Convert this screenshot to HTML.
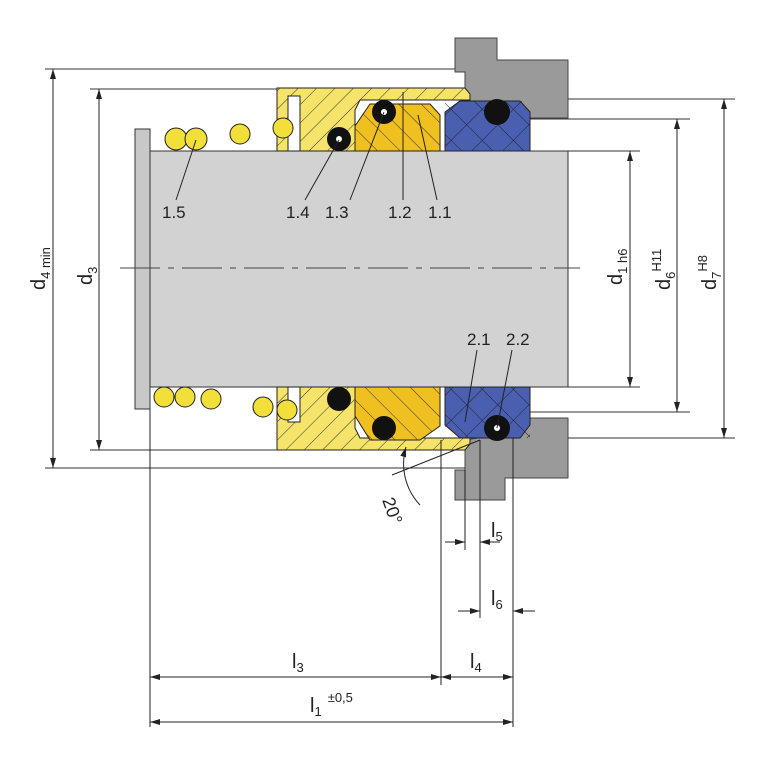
<!DOCTYPE html>
<html><head><meta charset="utf-8"><style>
html,body{margin:0;padding:0;background:#fff}
svg{display:block}
text{font-family:"Liberation Sans Narrow","Liberation Sans",sans-serif;fill:#222}
</style></head><body>
<svg width="768" height="768" viewBox="0 0 768 768" xmlns="http://www.w3.org/2000/svg">
<defs>
<marker id="a" markerWidth="10" markerHeight="6" refX="10" refY="3" orient="auto-start-reverse" markerUnits="userSpaceOnUse"><path d="M0,0 L10,3 L0,6z" fill="#222"/></marker>
<pattern id="h" width="13" height="13" patternUnits="userSpaceOnUse" patternTransform="rotate(45)"><line x1="0" y1="0" x2="0" y2="13" stroke="#333" stroke-width="1"/></pattern>
<pattern id="h2" width="16" height="16" patternUnits="userSpaceOnUse" patternTransform="rotate(-45)"><line x1="0" y1="0" x2="0" y2="16" stroke="#333" stroke-width="1"/></pattern>
<pattern id="x" width="22" height="22" patternUnits="userSpaceOnUse" patternTransform="rotate(45)"><path d="M0,0V22M0,0H22" stroke="#223" stroke-width="1"/></pattern>
</defs>
<g stroke="#333" stroke-width="1" fill="none">
<line x1="45" y1="69" x2="458" y2="69"/>
<line x1="90" y1="89" x2="462" y2="89"/>
<line x1="505" y1="99" x2="735" y2="99"/>
<line x1="520" y1="119" x2="690" y2="119"/>
<line x1="568" y1="151" x2="640" y2="151"/>
<line x1="568" y1="387" x2="640" y2="387"/>
<line x1="520" y1="412" x2="690" y2="412"/>
<line x1="515" y1="438" x2="735" y2="438"/>
<line x1="90" y1="450" x2="470" y2="450"/>
<line x1="45" y1="468" x2="470" y2="468"/>
</g>
<path d="M455,38H497V60H568V118H487L470,102H465V72H455Z" fill="#9a9a9a" stroke="#444"/>
<path d="M478,438L505,418H568V478H505V500H455V470H465V440Z" fill="#9a9a9a" stroke="#444"/>
<rect x="150" y="151" width="418" height="236" fill="#d2d2d2" stroke="#333"/>
<rect x="135" y="129" width="15" height="280" fill="#c8c8c8" stroke="#333"/>
<line x1="120" y1="268" x2="580" y2="268" stroke="#444" stroke-dasharray="40,8,6,8"/>
<!-- top seal -->
<path d="M277,88H465L470,94V100H360L355,110V151H277Z" fill="#f6e36a" stroke="#222"/>
<path d="M277,88H465L470,94V100H360L355,110V151H277Z" fill="url(#h)"/>
<path d="M355,151V126L370,104H415L430,104L440,115L440,151Z" fill="#f0c020" stroke="#222"/>
<path d="M355,151V126L370,104H415L430,104L440,115L440,151Z" fill="url(#h2)"/>
<path d="M445,151V112L460,101H520L530,112V151Z" fill="#4a5fb0" stroke="#222"/>
<rect x="445" y="101" width="85" height="50" fill="url(#x)"/>
<rect x="288" y="96" width="12" height="55" fill="#fff" stroke="#222"/>
<circle cx="384" cy="112" r="12" fill="#111"/><circle cx="384" cy="112" r="3" fill="#fff"/>
<circle cx="339" cy="139" r="12" fill="#111"/><circle cx="339" cy="139" r="3" fill="#fff"/>
<circle cx="497" cy="112" r="13" fill="#111"/>
<g fill="#f3df3a" stroke="#222">
<circle cx="176" cy="139" r="11"/><circle cx="196" cy="139" r="11"/>
<circle cx="240" cy="134" r="10"/><circle cx="283" cy="128" r="10"/>
</g>
<!-- bottom seal -->
<path d="M277,450H465L470,444V438H360L355,428V387H277Z" fill="#f6e36a" stroke="#222"/>
<path d="M277,450H465L470,444V438H360L355,428V387H277Z" fill="url(#h)"/>
<path d="M355,387V416L370,440H420L440,426L440,387Z" fill="#f0c020" stroke="#222"/>
<path d="M355,387V416L370,440H420L440,426L440,387Z" fill="url(#h2)"/>
<path d="M445,387V425L460,438H520L530,425V387Z" fill="#4a5fb0" stroke="#222"/>
<rect x="445" y="387" width="85" height="51" fill="url(#x)"/>
<rect x="288" y="387" width="12" height="35" fill="#fff" stroke="#222"/>
<circle cx="384" cy="428" r="12" fill="#111"/>
<circle cx="339" cy="399" r="12" fill="#111"/>
<circle cx="497" cy="428" r="13" fill="#111"/><circle cx="497" cy="428" r="3" fill="#fff"/>
<g fill="#f3df3a" stroke="#222">
<circle cx="164" cy="397" r="10"/><circle cx="185" cy="397" r="10"/><circle cx="211" cy="399" r="10"/>
<circle cx="263" cy="407" r="10"/><circle cx="287" cy="410" r="10"/>
</g>
<g stroke="#222" stroke-width="1">
<line x1="196" y1="140" x2="176" y2="200"/>
<line x1="339" y1="140" x2="305" y2="200"/>
<line x1="384" y1="112" x2="350" y2="200"/>
<line x1="403" y1="92" x2="403" y2="200"/>
<line x1="418" y1="115" x2="437" y2="200"/>
<line x1="465" y1="422" x2="477" y2="350"/>
<line x1="497" y1="428" x2="512" y2="350"/>
<line x1="392" y1="475" x2="480" y2="440"/>
<path d="M420,505 A60,60 0 0 1 406,447" fill="none" marker-end="url(#a)"/>
</g>
<g font-size="17">
<text x="162" y="218">1.5</text><text x="286" y="218">1.4</text><text x="325" y="218">1.3</text>
<text x="388" y="218">1.2</text><text x="428" y="218">1.1</text>
<text x="467" y="345">2.1</text><text x="506" y="345">2.2</text>
<text transform="translate(382,500) rotate(70)" font-size="18">20°</text>
</g>
<g stroke="#222" fill="none">
<line x1="53" y1="69" x2="53" y2="468" marker-start="url(#a)" marker-end="url(#a)"/>
<line x1="99" y1="89" x2="99" y2="450" marker-start="url(#a)" marker-end="url(#a)"/>
<line x1="630" y1="151" x2="630" y2="387" marker-start="url(#a)" marker-end="url(#a)"/>
<line x1="677" y1="119" x2="677" y2="412" marker-start="url(#a)" marker-end="url(#a)"/>
<line x1="724" y1="99" x2="724" y2="438" marker-start="url(#a)" marker-end="url(#a)"/>
</g>
<g font-size="20">
<text transform="translate(45,290) rotate(-90)">d<tspan font-size="13" dy="5">4 min</tspan></text>
<text transform="translate(92,285) rotate(-90)">d<tspan font-size="13" dy="5">3</tspan></text>
<text transform="translate(622,285) rotate(-90)">d<tspan font-size="13" dy="5">1 h6</tspan></text>
<text transform="translate(670,290) rotate(-90)">d<tspan font-size="13" dy="5">6</tspan><tspan font-size="13" dy="-14">H11</tspan></text>
<text transform="translate(716,290) rotate(-90)">d<tspan font-size="13" dy="5">7</tspan><tspan font-size="13" dy="-14">H8</tspan></text>
</g>
<g stroke="#222" fill="none">
<line x1="150" y1="409" x2="150" y2="727"/>
<line x1="441" y1="440" x2="441" y2="685"/>
<line x1="465" y1="470" x2="465" y2="550"/>
<line x1="480" y1="440" x2="480" y2="618"/>
<line x1="513" y1="438" x2="513" y2="727"/>
<line x1="445" y1="542" x2="465" y2="542" marker-end="url(#a)"/>
<line x1="500" y1="542" x2="480" y2="542" marker-end="url(#a)"/>
<line x1="458" y1="611" x2="480" y2="611" marker-end="url(#a)"/>
<line x1="535" y1="611" x2="513" y2="611" marker-end="url(#a)"/>
<line x1="150" y1="677" x2="441" y2="677" marker-start="url(#a)" marker-end="url(#a)"/>
<line x1="441" y1="677" x2="513" y2="677" marker-start="url(#a)" marker-end="url(#a)"/>
<line x1="150" y1="722" x2="513" y2="722" marker-start="url(#a)" marker-end="url(#a)"/>
</g>
<g font-size="20">
<text x="491" y="537">l<tspan font-size="13" dy="4">5</tspan></text>
<text x="491" y="605">l<tspan font-size="13" dy="4">6</tspan></text>
<text x="292" y="668">l<tspan font-size="13" dy="4">3</tspan></text>
<text x="470" y="668">l<tspan font-size="13" dy="4">4</tspan></text>
<text x="310" y="712">l<tspan font-size="13" dy="4">1</tspan><tspan font-size="13" dx="6" dy="-14">±0,5</tspan></text>
</g>
</svg>
</body></html>
